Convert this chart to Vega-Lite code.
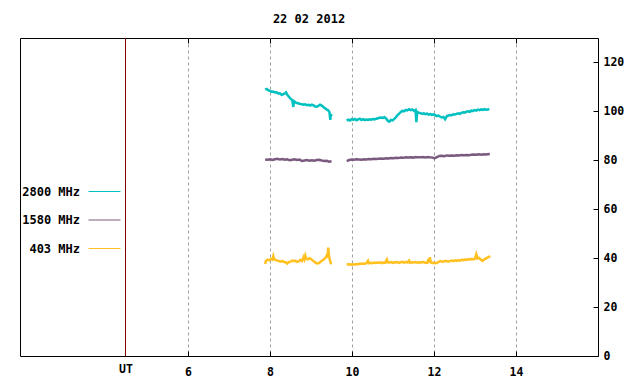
{
  "$schema": "https://vega.github.io/schema/vega-lite/v6.json",
  "width": 578,
  "height": 318,
  "autosize": {"type": "none"},
  "padding": {"left": 20, "top": 38, "right": 42, "bottom": 28},
  "background": "white",
  "config": {
    "view": {"stroke": "black", "strokeWidth": 1},
    "font": "DejaVu Sans Mono"
  },
  "title": {"text": "22 02 2012", "font": "DejaVu Sans Mono", "fontSize": 12, "fontWeight": "bold", "color": "black", "anchor": "middle", "baseline": "alphabetic", "offset": 3},
  "datasets": {
    "ut": [{"t": 4.4737}],
    "d": [
      {"t": 7.88, "v": 108.9, "s": "2800 MHz", "g": 1},
      {"t": 7.92, "v": 109.2, "s": "2800 MHz", "g": 1},
      {"t": 7.96, "v": 108.6, "s": "2800 MHz", "g": 1},
      {"t": 8.00, "v": 108.4, "s": "2800 MHz", "g": 1},
      {"t": 8.04, "v": 108.0, "s": "2800 MHz", "g": 1},
      {"t": 8.08, "v": 108.1, "s": "2800 MHz", "g": 1},
      {"t": 8.12, "v": 107.7, "s": "2800 MHz", "g": 1},
      {"t": 8.16, "v": 107.8, "s": "2800 MHz", "g": 1},
      {"t": 8.20, "v": 107.3, "s": "2800 MHz", "g": 1},
      {"t": 8.24, "v": 107.4, "s": "2800 MHz", "g": 1},
      {"t": 8.28, "v": 106.8, "s": "2800 MHz", "g": 1},
      {"t": 8.32, "v": 107.0, "s": "2800 MHz", "g": 1},
      {"t": 8.36, "v": 107.3, "s": "2800 MHz", "g": 1},
      {"t": 8.39, "v": 107.8, "s": "2800 MHz", "g": 1},
      {"t": 8.42, "v": 106.8, "s": "2800 MHz", "g": 1},
      {"t": 8.45, "v": 106.2, "s": "2800 MHz", "g": 1},
      {"t": 8.48, "v": 105.6, "s": "2800 MHz", "g": 1},
      {"t": 8.51, "v": 105.0, "s": "2800 MHz", "g": 1},
      {"t": 8.54, "v": 104.6, "s": "2800 MHz", "g": 1},
      {"t": 8.57, "v": 101.8, "s": "2800 MHz", "g": 1},
      {"t": 8.58, "v": 104.2, "s": "2800 MHz", "g": 1},
      {"t": 8.62, "v": 103.7, "s": "2800 MHz", "g": 1},
      {"t": 8.66, "v": 103.4, "s": "2800 MHz", "g": 1},
      {"t": 8.70, "v": 103.2, "s": "2800 MHz", "g": 1},
      {"t": 8.74, "v": 103.0, "s": "2800 MHz", "g": 1},
      {"t": 8.78, "v": 102.9, "s": "2800 MHz", "g": 1},
      {"t": 8.82, "v": 102.7, "s": "2800 MHz", "g": 1},
      {"t": 8.86, "v": 102.9, "s": "2800 MHz", "g": 1},
      {"t": 8.90, "v": 102.5, "s": "2800 MHz", "g": 1},
      {"t": 8.94, "v": 102.7, "s": "2800 MHz", "g": 1},
      {"t": 8.98, "v": 102.4, "s": "2800 MHz", "g": 1},
      {"t": 9.02, "v": 102.8, "s": "2800 MHz", "g": 1},
      {"t": 9.06, "v": 102.5, "s": "2800 MHz", "g": 1},
      {"t": 9.10, "v": 102.0, "s": "2800 MHz", "g": 1},
      {"t": 9.14, "v": 101.9, "s": "2800 MHz", "g": 1},
      {"t": 9.18, "v": 102.3, "s": "2800 MHz", "g": 1},
      {"t": 9.22, "v": 102.7, "s": "2800 MHz", "g": 1},
      {"t": 9.26, "v": 102.4, "s": "2800 MHz", "g": 1},
      {"t": 9.30, "v": 101.8, "s": "2800 MHz", "g": 1},
      {"t": 9.34, "v": 101.3, "s": "2800 MHz", "g": 1},
      {"t": 9.38, "v": 100.8, "s": "2800 MHz", "g": 1},
      {"t": 9.42, "v": 100.4, "s": "2800 MHz", "g": 1},
      {"t": 9.45, "v": 99.6, "s": "2800 MHz", "g": 1},
      {"t": 9.47, "v": 96.5, "s": "2800 MHz", "g": 1},
      {"t": 9.48, "v": 98.8, "s": "2800 MHz", "g": 1},
      {"t": 9.50, "v": 98.0, "s": "2800 MHz", "g": 1},
      {"t": 9.87, "v": 96.2, "s": "2800 MHz", "g": 2},
      {"t": 9.91, "v": 96.6, "s": "2800 MHz", "g": 2},
      {"t": 9.95, "v": 96.3, "s": "2800 MHz", "g": 2},
      {"t": 9.99, "v": 96.8, "s": "2800 MHz", "g": 2},
      {"t": 10.03, "v": 96.5, "s": "2800 MHz", "g": 2},
      {"t": 10.07, "v": 96.9, "s": "2800 MHz", "g": 2},
      {"t": 10.11, "v": 96.4, "s": "2800 MHz", "g": 2},
      {"t": 10.15, "v": 96.7, "s": "2800 MHz", "g": 2},
      {"t": 10.19, "v": 97.0, "s": "2800 MHz", "g": 2},
      {"t": 10.23, "v": 96.5, "s": "2800 MHz", "g": 2},
      {"t": 10.27, "v": 96.8, "s": "2800 MHz", "g": 2},
      {"t": 10.31, "v": 96.4, "s": "2800 MHz", "g": 2},
      {"t": 10.35, "v": 96.7, "s": "2800 MHz", "g": 2},
      {"t": 10.39, "v": 96.5, "s": "2800 MHz", "g": 2},
      {"t": 10.43, "v": 96.8, "s": "2800 MHz", "g": 2},
      {"t": 10.47, "v": 96.6, "s": "2800 MHz", "g": 2},
      {"t": 10.51, "v": 96.9, "s": "2800 MHz", "g": 2},
      {"t": 10.55, "v": 96.7, "s": "2800 MHz", "g": 2},
      {"t": 10.59, "v": 97.0, "s": "2800 MHz", "g": 2},
      {"t": 10.63, "v": 97.2, "s": "2800 MHz", "g": 2},
      {"t": 10.67, "v": 97.4, "s": "2800 MHz", "g": 2},
      {"t": 10.71, "v": 97.5, "s": "2800 MHz", "g": 2},
      {"t": 10.75, "v": 97.3, "s": "2800 MHz", "g": 2},
      {"t": 10.79, "v": 97.6, "s": "2800 MHz", "g": 2},
      {"t": 10.83, "v": 97.1, "s": "2800 MHz", "g": 2},
      {"t": 10.87, "v": 96.2, "s": "2800 MHz", "g": 2},
      {"t": 10.91, "v": 95.8, "s": "2800 MHz", "g": 2},
      {"t": 10.95, "v": 96.5, "s": "2800 MHz", "g": 2},
      {"t": 10.99, "v": 96.3, "s": "2800 MHz", "g": 2},
      {"t": 11.03, "v": 96.9, "s": "2800 MHz", "g": 2},
      {"t": 11.07, "v": 97.6, "s": "2800 MHz", "g": 2},
      {"t": 11.11, "v": 98.5, "s": "2800 MHz", "g": 2},
      {"t": 11.15, "v": 99.1, "s": "2800 MHz", "g": 2},
      {"t": 11.19, "v": 99.8, "s": "2800 MHz", "g": 2},
      {"t": 11.23, "v": 100.2, "s": "2800 MHz", "g": 2},
      {"t": 11.27, "v": 100.1, "s": "2800 MHz", "g": 2},
      {"t": 11.31, "v": 100.6, "s": "2800 MHz", "g": 2},
      {"t": 11.35, "v": 100.4, "s": "2800 MHz", "g": 2},
      {"t": 11.39, "v": 100.9, "s": "2800 MHz", "g": 2},
      {"t": 11.43, "v": 100.5, "s": "2800 MHz", "g": 2},
      {"t": 11.47, "v": 100.8, "s": "2800 MHz", "g": 2},
      {"t": 11.51, "v": 100.2, "s": "2800 MHz", "g": 2},
      {"t": 11.55, "v": 100.6, "s": "2800 MHz", "g": 2},
      {"t": 11.57, "v": 95.6, "s": "2800 MHz", "g": 2},
      {"t": 11.59, "v": 99.8, "s": "2800 MHz", "g": 2},
      {"t": 11.63, "v": 99.4, "s": "2800 MHz", "g": 2},
      {"t": 11.67, "v": 99.3, "s": "2800 MHz", "g": 2},
      {"t": 11.71, "v": 99.0, "s": "2800 MHz", "g": 2},
      {"t": 11.75, "v": 99.2, "s": "2800 MHz", "g": 2},
      {"t": 11.79, "v": 98.9, "s": "2800 MHz", "g": 2},
      {"t": 11.83, "v": 99.1, "s": "2800 MHz", "g": 2},
      {"t": 11.87, "v": 98.7, "s": "2800 MHz", "g": 2},
      {"t": 11.91, "v": 98.9, "s": "2800 MHz", "g": 2},
      {"t": 11.95, "v": 98.6, "s": "2800 MHz", "g": 2},
      {"t": 11.99, "v": 98.8, "s": "2800 MHz", "g": 2},
      {"t": 12.03, "v": 98.5, "s": "2800 MHz", "g": 2},
      {"t": 12.07, "v": 98.1, "s": "2800 MHz", "g": 2},
      {"t": 12.11, "v": 98.3, "s": "2800 MHz", "g": 2},
      {"t": 12.15, "v": 97.8, "s": "2800 MHz", "g": 2},
      {"t": 12.19, "v": 97.5, "s": "2800 MHz", "g": 2},
      {"t": 12.23, "v": 97.7, "s": "2800 MHz", "g": 2},
      {"t": 12.27, "v": 96.8, "s": "2800 MHz", "g": 2},
      {"t": 12.31, "v": 98.0, "s": "2800 MHz", "g": 2},
      {"t": 12.35, "v": 98.3, "s": "2800 MHz", "g": 2},
      {"t": 12.39, "v": 98.5, "s": "2800 MHz", "g": 2},
      {"t": 12.43, "v": 98.4, "s": "2800 MHz", "g": 2},
      {"t": 12.47, "v": 98.8, "s": "2800 MHz", "g": 2},
      {"t": 12.51, "v": 98.7, "s": "2800 MHz", "g": 2},
      {"t": 12.55, "v": 99.0, "s": "2800 MHz", "g": 2},
      {"t": 12.59, "v": 99.2, "s": "2800 MHz", "g": 2},
      {"t": 12.63, "v": 99.0, "s": "2800 MHz", "g": 2},
      {"t": 12.67, "v": 99.4, "s": "2800 MHz", "g": 2},
      {"t": 12.71, "v": 99.6, "s": "2800 MHz", "g": 2},
      {"t": 12.75, "v": 99.5, "s": "2800 MHz", "g": 2},
      {"t": 12.79, "v": 99.9, "s": "2800 MHz", "g": 2},
      {"t": 12.83, "v": 100.0, "s": "2800 MHz", "g": 2},
      {"t": 12.87, "v": 99.8, "s": "2800 MHz", "g": 2},
      {"t": 12.91, "v": 100.3, "s": "2800 MHz", "g": 2},
      {"t": 12.95, "v": 100.2, "s": "2800 MHz", "g": 2},
      {"t": 12.99, "v": 100.5, "s": "2800 MHz", "g": 2},
      {"t": 13.03, "v": 100.3, "s": "2800 MHz", "g": 2},
      {"t": 13.07, "v": 100.7, "s": "2800 MHz", "g": 2},
      {"t": 13.11, "v": 100.5, "s": "2800 MHz", "g": 2},
      {"t": 13.15, "v": 100.8, "s": "2800 MHz", "g": 2},
      {"t": 13.19, "v": 100.6, "s": "2800 MHz", "g": 2},
      {"t": 13.23, "v": 100.9, "s": "2800 MHz", "g": 2},
      {"t": 13.27, "v": 100.7, "s": "2800 MHz", "g": 2},
      {"t": 13.31, "v": 100.8, "s": "2800 MHz", "g": 2},
      {"t": 13.35, "v": 100.9, "s": "2800 MHz", "g": 2},
      {"t": 7.88, "v": 80.3, "s": "1580 MHz", "g": 1},
      {"t": 7.94, "v": 80.2, "s": "1580 MHz", "g": 1},
      {"t": 8.00, "v": 80.4, "s": "1580 MHz", "g": 1},
      {"t": 8.06, "v": 80.1, "s": "1580 MHz", "g": 1},
      {"t": 8.12, "v": 80.4, "s": "1580 MHz", "g": 1},
      {"t": 8.18, "v": 80.6, "s": "1580 MHz", "g": 1},
      {"t": 8.24, "v": 80.3, "s": "1580 MHz", "g": 1},
      {"t": 8.30, "v": 80.5, "s": "1580 MHz", "g": 1},
      {"t": 8.36, "v": 80.2, "s": "1580 MHz", "g": 1},
      {"t": 8.42, "v": 80.4, "s": "1580 MHz", "g": 1},
      {"t": 8.48, "v": 80.0, "s": "1580 MHz", "g": 1},
      {"t": 8.54, "v": 80.2, "s": "1580 MHz", "g": 1},
      {"t": 8.60, "v": 80.4, "s": "1580 MHz", "g": 1},
      {"t": 8.66, "v": 80.1, "s": "1580 MHz", "g": 1},
      {"t": 8.72, "v": 80.3, "s": "1580 MHz", "g": 1},
      {"t": 8.78, "v": 79.7, "s": "1580 MHz", "g": 1},
      {"t": 8.84, "v": 79.9, "s": "1580 MHz", "g": 1},
      {"t": 8.90, "v": 80.1, "s": "1580 MHz", "g": 1},
      {"t": 8.96, "v": 79.8, "s": "1580 MHz", "g": 1},
      {"t": 9.02, "v": 80.0, "s": "1580 MHz", "g": 1},
      {"t": 9.08, "v": 79.8, "s": "1580 MHz", "g": 1},
      {"t": 9.14, "v": 80.1, "s": "1580 MHz", "g": 1},
      {"t": 9.20, "v": 80.2, "s": "1580 MHz", "g": 1},
      {"t": 9.26, "v": 79.9, "s": "1580 MHz", "g": 1},
      {"t": 9.32, "v": 79.7, "s": "1580 MHz", "g": 1},
      {"t": 9.38, "v": 79.8, "s": "1580 MHz", "g": 1},
      {"t": 9.44, "v": 79.4, "s": "1580 MHz", "g": 1},
      {"t": 9.50, "v": 79.6, "s": "1580 MHz", "g": 1},
      {"t": 9.87, "v": 79.7, "s": "1580 MHz", "g": 2},
      {"t": 9.93, "v": 80.1, "s": "1580 MHz", "g": 2},
      {"t": 9.99, "v": 80.3, "s": "1580 MHz", "g": 2},
      {"t": 10.05, "v": 80.2, "s": "1580 MHz", "g": 2},
      {"t": 10.11, "v": 80.4, "s": "1580 MHz", "g": 2},
      {"t": 10.17, "v": 80.3, "s": "1580 MHz", "g": 2},
      {"t": 10.23, "v": 80.2, "s": "1580 MHz", "g": 2},
      {"t": 10.29, "v": 80.4, "s": "1580 MHz", "g": 2},
      {"t": 10.35, "v": 80.3, "s": "1580 MHz", "g": 2},
      {"t": 10.41, "v": 80.5, "s": "1580 MHz", "g": 2},
      {"t": 10.47, "v": 80.4, "s": "1580 MHz", "g": 2},
      {"t": 10.53, "v": 80.6, "s": "1580 MHz", "g": 2},
      {"t": 10.59, "v": 80.5, "s": "1580 MHz", "g": 2},
      {"t": 10.65, "v": 80.6, "s": "1580 MHz", "g": 2},
      {"t": 10.71, "v": 80.7, "s": "1580 MHz", "g": 2},
      {"t": 10.77, "v": 80.6, "s": "1580 MHz", "g": 2},
      {"t": 10.83, "v": 80.8, "s": "1580 MHz", "g": 2},
      {"t": 10.89, "v": 80.7, "s": "1580 MHz", "g": 2},
      {"t": 10.95, "v": 80.9, "s": "1580 MHz", "g": 2},
      {"t": 11.01, "v": 80.8, "s": "1580 MHz", "g": 2},
      {"t": 11.07, "v": 81.0, "s": "1580 MHz", "g": 2},
      {"t": 11.13, "v": 80.9, "s": "1580 MHz", "g": 2},
      {"t": 11.19, "v": 81.1, "s": "1580 MHz", "g": 2},
      {"t": 11.25, "v": 81.0, "s": "1580 MHz", "g": 2},
      {"t": 11.31, "v": 81.2, "s": "1580 MHz", "g": 2},
      {"t": 11.37, "v": 81.1, "s": "1580 MHz", "g": 2},
      {"t": 11.43, "v": 81.2, "s": "1580 MHz", "g": 2},
      {"t": 11.49, "v": 81.1, "s": "1580 MHz", "g": 2},
      {"t": 11.55, "v": 81.3, "s": "1580 MHz", "g": 2},
      {"t": 11.61, "v": 81.2, "s": "1580 MHz", "g": 2},
      {"t": 11.67, "v": 81.2, "s": "1580 MHz", "g": 2},
      {"t": 11.73, "v": 81.3, "s": "1580 MHz", "g": 2},
      {"t": 11.79, "v": 81.2, "s": "1580 MHz", "g": 2},
      {"t": 11.85, "v": 81.3, "s": "1580 MHz", "g": 2},
      {"t": 11.91, "v": 81.2, "s": "1580 MHz", "g": 2},
      {"t": 11.97, "v": 81.1, "s": "1580 MHz", "g": 2},
      {"t": 12.01, "v": 80.8, "s": "1580 MHz", "g": 2},
      {"t": 12.07, "v": 81.3, "s": "1580 MHz", "g": 2},
      {"t": 12.13, "v": 81.8, "s": "1580 MHz", "g": 2},
      {"t": 12.19, "v": 81.9, "s": "1580 MHz", "g": 2},
      {"t": 12.25, "v": 81.7, "s": "1580 MHz", "g": 2},
      {"t": 12.31, "v": 82.0, "s": "1580 MHz", "g": 2},
      {"t": 12.37, "v": 81.9, "s": "1580 MHz", "g": 2},
      {"t": 12.43, "v": 82.0, "s": "1580 MHz", "g": 2},
      {"t": 12.49, "v": 81.9, "s": "1580 MHz", "g": 2},
      {"t": 12.55, "v": 82.1, "s": "1580 MHz", "g": 2},
      {"t": 12.61, "v": 82.0, "s": "1580 MHz", "g": 2},
      {"t": 12.67, "v": 82.2, "s": "1580 MHz", "g": 2},
      {"t": 12.73, "v": 82.1, "s": "1580 MHz", "g": 2},
      {"t": 12.79, "v": 82.2, "s": "1580 MHz", "g": 2},
      {"t": 12.85, "v": 82.1, "s": "1580 MHz", "g": 2},
      {"t": 12.91, "v": 82.3, "s": "1580 MHz", "g": 2},
      {"t": 12.97, "v": 82.4, "s": "1580 MHz", "g": 2},
      {"t": 13.03, "v": 82.3, "s": "1580 MHz", "g": 2},
      {"t": 13.09, "v": 82.5, "s": "1580 MHz", "g": 2},
      {"t": 13.15, "v": 82.3, "s": "1580 MHz", "g": 2},
      {"t": 13.21, "v": 82.5, "s": "1580 MHz", "g": 2},
      {"t": 13.27, "v": 82.4, "s": "1580 MHz", "g": 2},
      {"t": 13.33, "v": 82.6, "s": "1580 MHz", "g": 2},
      {"t": 13.36, "v": 82.5, "s": "1580 MHz", "g": 2},
      {"t": 7.88, "v": 37.6, "s": "403 MHz", "g": 1},
      {"t": 7.90, "v": 38.9, "s": "403 MHz", "g": 1},
      {"t": 7.94, "v": 39.4, "s": "403 MHz", "g": 1},
      {"t": 7.98, "v": 39.1, "s": "403 MHz", "g": 1},
      {"t": 8.02, "v": 39.7, "s": "403 MHz", "g": 1},
      {"t": 8.06, "v": 39.4, "s": "403 MHz", "g": 1},
      {"t": 8.08, "v": 40.8, "s": "403 MHz", "g": 1},
      {"t": 8.10, "v": 39.6, "s": "403 MHz", "g": 1},
      {"t": 8.14, "v": 39.3, "s": "403 MHz", "g": 1},
      {"t": 8.18, "v": 39.0, "s": "403 MHz", "g": 1},
      {"t": 8.22, "v": 38.8, "s": "403 MHz", "g": 1},
      {"t": 8.26, "v": 38.6, "s": "403 MHz", "g": 1},
      {"t": 8.30, "v": 38.9, "s": "403 MHz", "g": 1},
      {"t": 8.34, "v": 38.4, "s": "403 MHz", "g": 1},
      {"t": 8.38, "v": 38.3, "s": "403 MHz", "g": 1},
      {"t": 8.42, "v": 37.8, "s": "403 MHz", "g": 1},
      {"t": 8.46, "v": 38.4, "s": "403 MHz", "g": 1},
      {"t": 8.50, "v": 38.6, "s": "403 MHz", "g": 1},
      {"t": 8.54, "v": 39.0, "s": "403 MHz", "g": 1},
      {"t": 8.58, "v": 38.8, "s": "403 MHz", "g": 1},
      {"t": 8.62, "v": 38.9, "s": "403 MHz", "g": 1},
      {"t": 8.66, "v": 38.5, "s": "403 MHz", "g": 1},
      {"t": 8.70, "v": 38.7, "s": "403 MHz", "g": 1},
      {"t": 8.74, "v": 39.3, "s": "403 MHz", "g": 1},
      {"t": 8.78, "v": 38.8, "s": "403 MHz", "g": 1},
      {"t": 8.82, "v": 40.5, "s": "403 MHz", "g": 1},
      {"t": 8.84, "v": 39.6, "s": "403 MHz", "g": 1},
      {"t": 8.86, "v": 41.0, "s": "403 MHz", "g": 1},
      {"t": 8.88, "v": 39.8, "s": "403 MHz", "g": 1},
      {"t": 8.92, "v": 39.5, "s": "403 MHz", "g": 1},
      {"t": 8.96, "v": 40.0, "s": "403 MHz", "g": 1},
      {"t": 9.00, "v": 39.6, "s": "403 MHz", "g": 1},
      {"t": 9.04, "v": 39.1, "s": "403 MHz", "g": 1},
      {"t": 9.08, "v": 38.5, "s": "403 MHz", "g": 1},
      {"t": 9.12, "v": 38.0, "s": "403 MHz", "g": 1},
      {"t": 9.16, "v": 37.8, "s": "403 MHz", "g": 1},
      {"t": 9.20, "v": 38.1, "s": "403 MHz", "g": 1},
      {"t": 9.24, "v": 38.6, "s": "403 MHz", "g": 1},
      {"t": 9.28, "v": 39.1, "s": "403 MHz", "g": 1},
      {"t": 9.32, "v": 39.6, "s": "403 MHz", "g": 1},
      {"t": 9.36, "v": 40.3, "s": "403 MHz", "g": 1},
      {"t": 9.38, "v": 41.0, "s": "403 MHz", "g": 1},
      {"t": 9.40, "v": 40.2, "s": "403 MHz", "g": 1},
      {"t": 9.42, "v": 44.3, "s": "403 MHz", "g": 1},
      {"t": 9.44, "v": 40.5, "s": "403 MHz", "g": 1},
      {"t": 9.46, "v": 39.3, "s": "403 MHz", "g": 1},
      {"t": 9.48, "v": 38.0, "s": "403 MHz", "g": 1},
      {"t": 9.51, "v": 37.8, "s": "403 MHz", "g": 1},
      {"t": 9.87, "v": 37.6, "s": "403 MHz", "g": 2},
      {"t": 9.91, "v": 37.4, "s": "403 MHz", "g": 2},
      {"t": 9.95, "v": 37.5, "s": "403 MHz", "g": 2},
      {"t": 9.99, "v": 37.3, "s": "403 MHz", "g": 2},
      {"t": 10.03, "v": 37.5, "s": "403 MHz", "g": 2},
      {"t": 10.07, "v": 37.4, "s": "403 MHz", "g": 2},
      {"t": 10.11, "v": 37.6, "s": "403 MHz", "g": 2},
      {"t": 10.15, "v": 37.5, "s": "403 MHz", "g": 2},
      {"t": 10.19, "v": 37.8, "s": "403 MHz", "g": 2},
      {"t": 10.23, "v": 37.6, "s": "403 MHz", "g": 2},
      {"t": 10.27, "v": 37.8, "s": "403 MHz", "g": 2},
      {"t": 10.31, "v": 37.7, "s": "403 MHz", "g": 2},
      {"t": 10.35, "v": 37.9, "s": "403 MHz", "g": 2},
      {"t": 10.39, "v": 38.9, "s": "403 MHz", "g": 2},
      {"t": 10.41, "v": 37.9, "s": "403 MHz", "g": 2},
      {"t": 10.45, "v": 38.1, "s": "403 MHz", "g": 2},
      {"t": 10.49, "v": 37.9, "s": "403 MHz", "g": 2},
      {"t": 10.53, "v": 38.2, "s": "403 MHz", "g": 2},
      {"t": 10.57, "v": 38.0, "s": "403 MHz", "g": 2},
      {"t": 10.61, "v": 38.2, "s": "403 MHz", "g": 2},
      {"t": 10.65, "v": 38.1, "s": "403 MHz", "g": 2},
      {"t": 10.69, "v": 38.3, "s": "403 MHz", "g": 2},
      {"t": 10.73, "v": 38.0, "s": "403 MHz", "g": 2},
      {"t": 10.77, "v": 38.2, "s": "403 MHz", "g": 2},
      {"t": 10.81, "v": 38.1, "s": "403 MHz", "g": 2},
      {"t": 10.85, "v": 39.4, "s": "403 MHz", "g": 2},
      {"t": 10.87, "v": 38.3, "s": "403 MHz", "g": 2},
      {"t": 10.91, "v": 38.2, "s": "403 MHz", "g": 2},
      {"t": 10.95, "v": 38.4, "s": "403 MHz", "g": 2},
      {"t": 10.99, "v": 38.1, "s": "403 MHz", "g": 2},
      {"t": 11.03, "v": 38.3, "s": "403 MHz", "g": 2},
      {"t": 11.07, "v": 38.2, "s": "403 MHz", "g": 2},
      {"t": 11.11, "v": 38.4, "s": "403 MHz", "g": 2},
      {"t": 11.15, "v": 38.1, "s": "403 MHz", "g": 2},
      {"t": 11.19, "v": 38.3, "s": "403 MHz", "g": 2},
      {"t": 11.23, "v": 38.5, "s": "403 MHz", "g": 2},
      {"t": 11.27, "v": 38.2, "s": "403 MHz", "g": 2},
      {"t": 11.31, "v": 38.4, "s": "403 MHz", "g": 2},
      {"t": 11.35, "v": 38.3, "s": "403 MHz", "g": 2},
      {"t": 11.39, "v": 39.0, "s": "403 MHz", "g": 2},
      {"t": 11.41, "v": 38.1, "s": "403 MHz", "g": 2},
      {"t": 11.45, "v": 38.3, "s": "403 MHz", "g": 2},
      {"t": 11.49, "v": 38.2, "s": "403 MHz", "g": 2},
      {"t": 11.53, "v": 38.4, "s": "403 MHz", "g": 2},
      {"t": 11.57, "v": 38.2, "s": "403 MHz", "g": 2},
      {"t": 11.61, "v": 38.3, "s": "403 MHz", "g": 2},
      {"t": 11.65, "v": 38.1, "s": "403 MHz", "g": 2},
      {"t": 11.69, "v": 38.3, "s": "403 MHz", "g": 2},
      {"t": 11.73, "v": 38.4, "s": "403 MHz", "g": 2},
      {"t": 11.77, "v": 38.2, "s": "403 MHz", "g": 2},
      {"t": 11.81, "v": 38.0, "s": "403 MHz", "g": 2},
      {"t": 11.84, "v": 38.1, "s": "403 MHz", "g": 2},
      {"t": 11.86, "v": 39.6, "s": "403 MHz", "g": 2},
      {"t": 11.88, "v": 38.3, "s": "403 MHz", "g": 2},
      {"t": 11.90, "v": 40.4, "s": "403 MHz", "g": 2},
      {"t": 11.92, "v": 38.2, "s": "403 MHz", "g": 2},
      {"t": 11.96, "v": 38.0, "s": "403 MHz", "g": 2},
      {"t": 12.00, "v": 38.1, "s": "403 MHz", "g": 2},
      {"t": 12.04, "v": 37.9, "s": "403 MHz", "g": 2},
      {"t": 12.08, "v": 38.2, "s": "403 MHz", "g": 2},
      {"t": 12.12, "v": 38.6, "s": "403 MHz", "g": 2},
      {"t": 12.16, "v": 38.8, "s": "403 MHz", "g": 2},
      {"t": 12.20, "v": 38.5, "s": "403 MHz", "g": 2},
      {"t": 12.24, "v": 38.6, "s": "403 MHz", "g": 2},
      {"t": 12.28, "v": 38.9, "s": "403 MHz", "g": 2},
      {"t": 12.32, "v": 38.7, "s": "403 MHz", "g": 2},
      {"t": 12.36, "v": 38.6, "s": "403 MHz", "g": 2},
      {"t": 12.40, "v": 38.9, "s": "403 MHz", "g": 2},
      {"t": 12.44, "v": 39.0, "s": "403 MHz", "g": 2},
      {"t": 12.48, "v": 38.8, "s": "403 MHz", "g": 2},
      {"t": 12.52, "v": 39.1, "s": "403 MHz", "g": 2},
      {"t": 12.56, "v": 38.9, "s": "403 MHz", "g": 2},
      {"t": 12.60, "v": 39.2, "s": "403 MHz", "g": 2},
      {"t": 12.64, "v": 39.0, "s": "403 MHz", "g": 2},
      {"t": 12.68, "v": 39.3, "s": "403 MHz", "g": 2},
      {"t": 12.72, "v": 39.2, "s": "403 MHz", "g": 2},
      {"t": 12.76, "v": 39.4, "s": "403 MHz", "g": 2},
      {"t": 12.80, "v": 39.3, "s": "403 MHz", "g": 2},
      {"t": 12.84, "v": 39.6, "s": "403 MHz", "g": 2},
      {"t": 12.88, "v": 39.4, "s": "403 MHz", "g": 2},
      {"t": 12.92, "v": 39.7, "s": "403 MHz", "g": 2},
      {"t": 12.96, "v": 39.5, "s": "403 MHz", "g": 2},
      {"t": 13.00, "v": 39.8, "s": "403 MHz", "g": 2},
      {"t": 13.03, "v": 41.6, "s": "403 MHz", "g": 2},
      {"t": 13.06, "v": 39.9, "s": "403 MHz", "g": 2},
      {"t": 13.10, "v": 40.1, "s": "403 MHz", "g": 2},
      {"t": 13.14, "v": 39.4, "s": "403 MHz", "g": 2},
      {"t": 13.18, "v": 38.9, "s": "403 MHz", "g": 2},
      {"t": 13.22, "v": 39.4, "s": "403 MHz", "g": 2},
      {"t": 13.26, "v": 39.8, "s": "403 MHz", "g": 2},
      {"t": 13.30, "v": 40.2, "s": "403 MHz", "g": 2},
      {"t": 13.34, "v": 40.5, "s": "403 MHz", "g": 2},
      {"t": 13.37, "v": 40.9, "s": "403 MHz", "g": 2}
    ]
  },
  "resolve": {"axis": {"x": "independent"}},
  "layer": [
    {
      "data": {"name": "ut"},
      "mark": {"type": "rule", "color": "#800000", "strokeWidth": 1},
      "encoding": {
        "x": {
          "field": "t", "type": "quantitative",
          "scale": {"domain": [1.9, 16], "nice": false, "zero": false},
          "axis": {
            "orient": "top", "values": [6, 8, 10, 12, 14], "labels": false, "grid": false,
            "domain": false, "tickSize": -5, "tickColor": "black", "title": null
          }
        }
      }
    },
    {
      "data": {"name": "d"},
      "mark": {"type": "line", "strokeWidth": 2.5, "interpolate": "linear"},
      "encoding": {
        "x": {
          "field": "t", "type": "quantitative",
          "scale": {"domain": [1.9, 16], "nice": false, "zero": false},
          "axis": {
            "orient": "bottom", "values": [4.4737, 6, 8, 10, 12, 14],
            "labelExpr": "datum.value < 5 ? 'UT' : datum.label",
            "grid": true, "gridColor": "#a0a0a0", "gridDash": [3, 3], "gridWidth": 1,
            "gridOpacity": {"condition": {"test": "datum.value < 5", "value": 0}, "value": 1},
            "tickOpacity": {"condition": {"test": "datum.value < 5", "value": 0}, "value": 1},
            "labelBaseline": {"condition": {"test": "datum.value < 5", "value": "alphabetic"}, "value": "middle"},
            "domain": false, "tickSize": -5, "tickColor": "black",
            "labelPadding": 21, "labelFont": "DejaVu Sans Mono", "labelFontSize": 11.5,
            "labelFontWeight": "bold", "labelColor": "black", "labelOverlap": false, "labelFlush": false,
            "title": null
          }
        },
        "y": {
          "field": "v", "type": "quantitative",
          "scale": {"domain": [0, 130], "nice": false},
          "axis": {
            "orient": "right", "values": [0, 20, 40, 60, 80, 100, 120], "grid": false,
            "domain": false, "tickSize": -5, "tickColor": "black",
            "labelPadding": 10, "labelAlign": "left", "labelBaseline": "middle",
            "labelFont": "DejaVu Sans Mono", "labelFontSize": 11.5, "labelFontWeight": "bold",
            "labelColor": "black", "labelOverlap": false, "labelFlush": false, "title": null
          }
        },
        "color": {
          "field": "s", "type": "nominal",
          "scale": {"domain": ["2800 MHz", "1580 MHz", "403 MHz"], "range": ["#00c0c0", "#7a5a7e", "#ffc020"]},
          "legend": {
            "orient": "none", "legendX": 68, "legendY": 137, "title": null,
            "symbolType": "stroke", "symbolSize": 1024, "symbolStrokeWidth": 1,
            "labelAlign": "right", "labelOffset": -41, "rowPadding": 5.5, "padding": 0,
            "labelFont": "DejaVu Sans Mono", "labelFontSize": 12, "labelFontWeight": "bold",
            "labelColor": "black", "labelLimit": 200
          }
        },
        "detail": {"field": "g", "type": "nominal"}
      }
    }
  ]
}
